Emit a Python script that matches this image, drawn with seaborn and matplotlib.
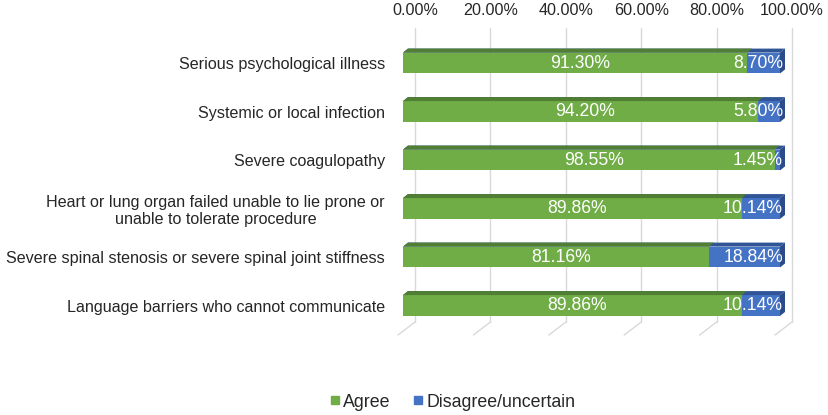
import pandas as pd
import matplotlib.pyplot as plt
import seaborn as sns
from matplotlib.patches import Polygon
from matplotlib.lines import Line2D

categories = [
    "Serious psychological illness",
    "Systemic or local infection",
    "Severe coagulopathy",
    "Heart or lung organ failed unable to lie prone or\nunable to tolerate procedure",
    "Severe spinal stenosis or severe spinal joint stiffness",
    "Language barriers who cannot communicate",
]
agree = [91.30, 94.20, 98.55, 89.86, 81.16, 89.86]
disagree = [8.70, 5.80, 1.45, 10.14, 18.84, 10.14]
tick_values = [0, 20, 40, 60, 80, 100]

df = pd.DataFrame({"category": categories, "agree": agree, "disagree": disagree})
df["total"] = df["agree"] + df["disagree"]

green = "#70AD47"
green_top = "#507E32"
blue = "#4472C4"
blue_top = "#2F5597"
blue_side = "#2A4C8A"
grid_col = "#D9D9D9"

sns.set_style("white")
plt.rcParams["font.family"] = ["Liberation Sans", "DejaVu Sans"]

fig = plt.figure(figsize=(8.29, 4.15), dpi=100)
# front plane of the bars: 0% at x=403px, 100% at x=780px
W, H = 829, 415
px_x = 377 / 100.0
px_y = 48.5
xmax = 104
ax = fig.add_axes([403 / W, 1 - 340 / H, xmax * px_x / W, 312 / H])

bw = 0.43
sns.barplot(data=df, y="category", x="total", color=blue, saturation=1,
            width=bw, orient="h", ax=ax, zorder=3, linewidth=0)
sns.barplot(data=df, y="category", x="agree", color=green, saturation=1,
            width=bw, orient="h", ax=ax, zorder=4, linewidth=0)

back = 12 / px_x          # back wall offset
dx = 5 / px_x             # bar depth
dy = -4 / px_y

ax.xaxis.tick_top()
ax.set_xticks([v + back for v in tick_values])
ax.set_xticklabels([f"{v:.2f}%" for v in tick_values], fontsize=11.6)
ax.tick_params(axis="x", length=0, pad=7)
ax.tick_params(axis="y", length=0, pad=13, labelsize=11.6)
for lbl in ax.get_yticklabels():
    lbl.set_multialignment("center")
ax.set_xlabel("")
ax.set_ylabel("")
for s in ax.spines.values():
    s.set_visible(False)

ax.set_xlim(0, xmax)
ax.set_ylim(5.711, -0.722)

# back wall gridlines and floor
for v in tick_values:
    xb = v + back
    ax.plot([xb, xb], [-0.722, (322 - 63) / px_y], color=grid_col, lw=1, zorder=1, clip_on=False)
    ax.plot([xb, xb - 17 / px_x], [(322 - 63) / px_y, (335 - 63) / px_y],
            color=grid_col, lw=1, zorder=1, clip_on=False)

# 3D faces
n = len(categories)
blue_bars = ax.patches[:n]
green_bars = ax.patches[n:2 * n]
for bars, top_col, side_col, z in [(blue_bars, blue_top, blue_side, 3), (green_bars, green_top, None, 4)]:
    for p in bars:
        x0, y0 = p.get_x(), p.get_y()
        w, h = p.get_width(), p.get_height()
        ytop = min(y0, y0 + h)
        ybot = max(y0, y0 + h)
        ax.add_patch(Polygon([(x0, ytop), (x0 + w, ytop), (x0 + w + dx, ytop + dy), (x0 + dx, ytop + dy)],
                             closed=True, color=top_col, lw=0, zorder=z, clip_on=False))
        if side_col:
            ax.add_patch(Polygon([(x0 + w, ytop), (x0 + w + dx, ytop + dy), (x0 + w + dx, ybot + dy), (x0 + w, ybot)],
                                 closed=True, color=side_col, lw=0, zorder=z, clip_on=False))

# value labels
for i, (a, d) in enumerate(zip(agree, disagree)):
    ax.text(a / 2 + 1.3, i, f"{a:.2f}%", color="white", fontsize=12.7,
            ha="center", va="center", zorder=6)
    ax.text(100.8, i, f"{d:.2f}%", color="white", fontsize=12.7,
            ha="right", va="center", zorder=6)

handles = [
    Line2D([0], [0], marker="s", color="none", markerfacecolor=green, markeredgecolor=green, markersize=6),
    Line2D([0], [0], marker="s", color="none", markerfacecolor=blue, markeredgecolor=blue, markersize=6),
]
fig.legend(handles, ["Agree", "Disagree/uncertain"], loc="center", ncol=2,
           bbox_to_anchor=(453 / W, 1 - 402 / H), frameon=False, fontsize=12.8,
           handlelength=0.45, handletextpad=0.25, columnspacing=1.3)

fig.savefig("out.png", dpi=100)
